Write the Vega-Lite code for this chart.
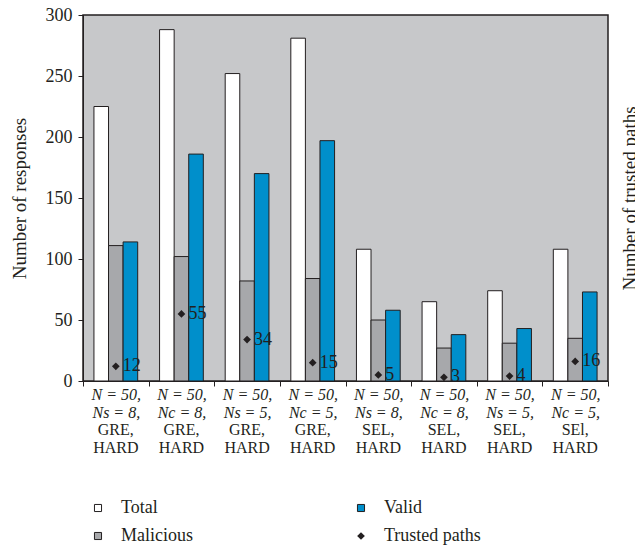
{
  "$schema": "https://vega.github.io/schema/vega-lite/v6.json",
  "width": 525,
  "height": 366,
  "autosize": {"type": "none"},
  "padding": {"left": 83, "top": 15, "right": 27, "bottom": 167},
  "background": "white",
  "config": {
    "font": "Liberation Serif",
    "view": {"fill": "#c7c8ca", "stroke": "#231f20", "strokeWidth": 1.5},
    "axis": {"labelColor": "#231f20", "titleColor": "#231f20", "domainColor": "#231f20", "tickColor": "#231f20", "grid": false, "titleFontWeight": "normal"}
  },
  "datasets": {
    "bars": [
      {"config": "N = 50,|Ns = 8,|GRE,|HARD", "series": "Total", "value": 225},
      {"config": "N = 50,|Ns = 8,|GRE,|HARD", "series": "Malicious", "value": 111},
      {"config": "N = 50,|Ns = 8,|GRE,|HARD", "series": "Valid", "value": 114},
      {"config": "N = 50,|Nc = 8,|GRE,|HARD", "series": "Total", "value": 288},
      {"config": "N = 50,|Nc = 8,|GRE,|HARD", "series": "Malicious", "value": 102},
      {"config": "N = 50,|Nc = 8,|GRE,|HARD", "series": "Valid", "value": 186},
      {"config": "N = 50,|Ns = 5,|GRE,|HARD", "series": "Total", "value": 252},
      {"config": "N = 50,|Ns = 5,|GRE,|HARD", "series": "Malicious", "value": 82},
      {"config": "N = 50,|Ns = 5,|GRE,|HARD", "series": "Valid", "value": 170},
      {"config": "N = 50,|Nc = 5,|GRE,|HARD", "series": "Total", "value": 281},
      {"config": "N = 50,|Nc = 5,|GRE,|HARD", "series": "Malicious", "value": 84},
      {"config": "N = 50,|Nc = 5,|GRE,|HARD", "series": "Valid", "value": 197},
      {"config": "N = 50,|Ns = 8,|SEL,|HARD", "series": "Total", "value": 108},
      {"config": "N = 50,|Ns = 8,|SEL,|HARD", "series": "Malicious", "value": 50},
      {"config": "N = 50,|Ns = 8,|SEL,|HARD", "series": "Valid", "value": 58},
      {"config": "N = 50,|Nc = 8,|SEL,|HARD", "series": "Total", "value": 65},
      {"config": "N = 50,|Nc = 8,|SEL,|HARD", "series": "Malicious", "value": 27},
      {"config": "N = 50,|Nc = 8,|SEL,|HARD", "series": "Valid", "value": 38},
      {"config": "N = 50,|Ns = 5,|SEL,|HARD", "series": "Total", "value": 74},
      {"config": "N = 50,|Ns = 5,|SEL,|HARD", "series": "Malicious", "value": 31},
      {"config": "N = 50,|Ns = 5,|SEL,|HARD", "series": "Valid", "value": 43},
      {"config": "N = 50,|Nc = 5,|SEl,|HARD", "series": "Total", "value": 108},
      {"config": "N = 50,|Nc = 5,|SEl,|HARD", "series": "Malicious", "value": 35},
      {"config": "N = 50,|Nc = 5,|SEl,|HARD", "series": "Valid", "value": 73}
    ],
    "trust": [
      {"config": "N = 50,|Ns = 8,|GRE,|HARD", "trusted": 12},
      {"config": "N = 50,|Nc = 8,|GRE,|HARD", "trusted": 55},
      {"config": "N = 50,|Ns = 5,|GRE,|HARD", "trusted": 34},
      {"config": "N = 50,|Nc = 5,|GRE,|HARD", "trusted": 15},
      {"config": "N = 50,|Ns = 8,|SEL,|HARD", "trusted": 5},
      {"config": "N = 50,|Nc = 8,|SEL,|HARD", "trusted": 3},
      {"config": "N = 50,|Ns = 5,|SEL,|HARD", "trusted": 4},
      {"config": "N = 50,|Nc = 5,|SEl,|HARD", "trusted": 16}
    ]
  },
  "layer": [
    {
      "data": {"name": "bars"},
      "mark": {"type": "bar", "stroke": "#231f20", "strokeWidth": 1},
      "encoding": {
        "x": {
          "field": "config", "type": "nominal", "sort": null,
          "scale": {"paddingInner": 0, "paddingOuter": 0},
          "axis": {
            "orient": "bottom",
            "title": null, "labelAngle": 0, "tickBand": "extent", "tickSize": 5,
            "labelPadding": 0, "labelFontSize": 16, "labelFontStyle": "italic",
            "labelLineHeight": 18, "labelBaseline": "top",
            "labelExpr": "[split(datum.label, '|')[0], split(datum.label, '|')[1]]"
          }
        },
        "xOffset": {
          "field": "series", "type": "nominal", "sort": ["Total", "Malicious", "Valid"],
          "scale": {"paddingInner": 0, "paddingOuter": 0.75}
        },
        "y": {
          "field": "value", "type": "quantitative",
          "scale": {"domain": [0, 300]},
          "axis": {
            "orient": "left",
            "title": "Number of responses", "titleFontSize": 19, "titlePadding": 16,
            "values": [0, 50, 100, 150, 200, 250, 300],
            "labelFontSize": 18, "labelPadding": 6, "tickSize": 5
          }
        },
        "color": {
          "field": "series", "type": "nominal",
          "scale": {"domain": ["Total", "Malicious", "Valid", "Trusted paths"], "range": ["#ffffff", "#a7a8ab", "#008fcb", "#231f20"]},
          "legend": {
            "title": null, "orient": "none", "legendX": 6, "legendY": 484,
            "columns": 2, "columnPadding": 159, "rowPadding": 10,
            "labelFontSize": 18, "labelOffset": 14, "labelColor": "#231f20",
            "symbolType": "square", "symbolSize": 50, "symbolStrokeColor": "#231f20", "symbolStrokeWidth": 1,
            "encode": {
              "symbols": {
                "update": {
                  "shape": {"signal": "datum.value === 'Trusted paths' ? 'diamond' : 'square'"},
                  "size": {"signal": "datum.value === 'Trusted paths' ? 60 : 50"},
                  "strokeWidth": {"signal": "datum.value === 'Trusted paths' ? 0 : 1"}
                }
              }
            }
          }
        }
      }
    },
    {
      "data": {"name": "trust"},
      "mark": {"type": "point", "shape": "diamond", "filled": true, "size": 60, "opacity": 1},
      "encoding": {
        "x": {
          "field": "config", "type": "nominal", "sort": null,
          "axis": {
            "orient": "bottom",
            "title": null, "labelAngle": 0, "domain": false, "ticks": false,
            "labelPadding": 40, "labelFontSize": 16, "labelFontStyle": "normal",
            "labelLineHeight": 18, "labelBaseline": "top",
            "labelExpr": "[split(datum.label, '|')[2], split(datum.label, '|')[3]]"
          }
        },
        "y": {
          "field": "trusted", "type": "quantitative",
          "axis": {
            "orient": "right", "title": "Number of trusted paths", "titleFontSize": 19,
            "labels": false, "ticks": false, "domain": false,
            "titleAngle": 270, "titleBaseline": "top", "titlePadding": 12
          }
        },
        "color": {"datum": "Trusted paths"}
      }
    },
    {
      "data": {"name": "trust"},
      "mark": {"type": "text", "align": "left", "baseline": "middle", "dx": 7, "fontSize": 18, "color": "#231f20"},
      "encoding": {
        "x": {"field": "config", "type": "nominal", "sort": null, "axis": null},
        "y": {"field": "trusted", "type": "quantitative", "axis": null},
        "text": {"field": "trusted", "type": "quantitative"}
      }
    }
  ],
  "resolve": {"axis": {"x": "independent", "y": "independent"}}
}
